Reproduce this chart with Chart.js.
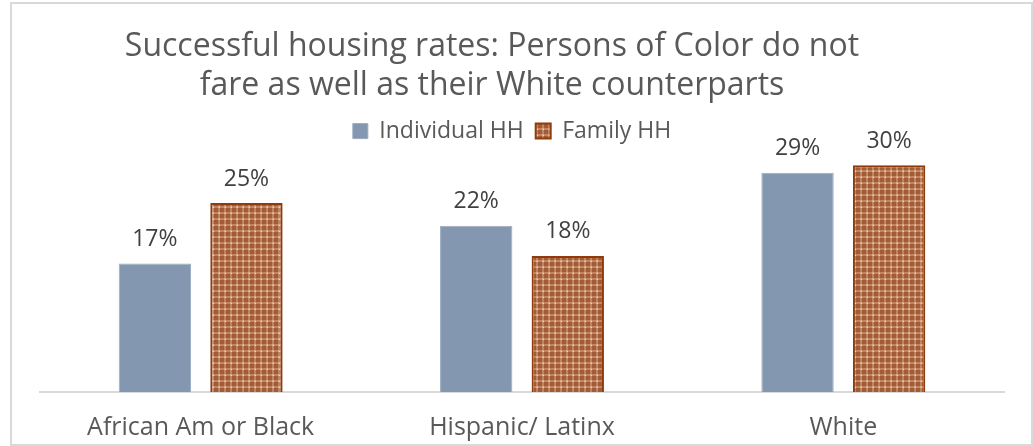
<!DOCTYPE html>
<html>
<head>
<meta charset="utf-8">
<script src="https://cdn.jsdelivr.net/npm/chart.js@4"></script>
<style>
  html, body { margin: 0; padding: 0; background: #ffffff; }
  #wrap { position: relative; width: 1033px; height: 446px; }
</style>
</head>
<body>
<div id="wrap"><canvas id="myChart"></canvas></div>
<script>
// data
const categories = ['African Am or Black', 'Hispanic/ Latinx', 'White'];
const seriesNames = ['Individual HH', 'Family HH'];
const individualValues = [17, 22, 29];
const familyValues = [25, 18, 30];
const titleLines = ['Successful housing rates: Persons of Color do not', 'fare as well as their White counterparts'];

Chart.defaults.font.family = "'Open Sans', 'Noto Sans', sans-serif";
Chart.defaults.color = '#595959';

// brown checked pattern for the family bars
function makePattern() {
    const c = document.createElement('canvas');
    c.width = 6;
    c.height = 6;
    const g = c.getContext('2d');
    g.fillStyle = '#a35b35';
    g.fillRect(0, 0, 6, 6);
    g.fillStyle = '#c08664';
    g.fillRect(0, 2, 6, 2);
    g.fillRect(2, 0, 2, 6);
    g.fillStyle = '#d6a88a';
    g.fillRect(2, 2, 2, 2);
    g.fillStyle = '#f0d8c0';
    g.fillRect(3, 3, 1, 1);
    return g.createPattern(c, 'repeat');
}
const brownPattern = makePattern();

// frame round the whole chart
const framePlugin = {
    id: 'frame',
    beforeDraw(chart) {
        const ctx = chart.ctx;
        ctx.save();
        ctx.strokeStyle = '#d9d9d9';
        ctx.lineWidth = 2;
        ctx.strokeRect(11, 3, 1021, 442);
        ctx.restore();
    }
};

// title sits a bit left of the plot centre
const shiftPlugin = {
    id: 'shift',
    afterLayout(chart) {
        chart.titleBlock.left -= 30;
        chart.titleBlock.right -= 30;
        chart.legend.left -= 10;
        chart.legend.right -= 10;
    }
};

// value labels above bars
const valueLabels = {
    id: 'valueLabels',
    afterDatasetsDraw(chart) {
        const ctx = chart.ctx;
        ctx.save();
        ctx.font = "23px 'Open Sans', 'Noto Sans', sans-serif";
        ctx.fillStyle = '#404040';
        ctx.textAlign = 'center';
        ctx.textBaseline = 'middle';
        chart.data.datasets.forEach((ds, i) => {
            chart.getDatasetMeta(i).data.forEach((bar, j) => {
                ctx.fillText(ds.data[j] + '%', bar.x, bar.y - 24);
            });
        });
        ctx.restore();
    }
};

const data = {
    labels: categories,
    datasets: [{
        label: seriesNames[0],
        data: individualValues,
        backgroundColor: '#8497b0',
        borderColor: '#9aabc0',
        borderWidth: 1,
        borderSkipped: 'bottom'
    }, {
        label: seriesNames[1],
        data: familyValues,
        backgroundColor: brownPattern,
        borderColor: '#8f3b0c',
        borderWidth: 2,
        borderSkipped: 'bottom'
    }]
};

const config = {
    type: 'bar',
    data: data,
    plugins: [framePlugin, shiftPlugin, valueLabels],
    options: {
        responsive: false,
        animation: false,
        categoryPercentage: 0.57,
        barPercentage: 0.79,
        layout: {
            padding: { left: 40, right: 29, top: 0, bottom: 0 }
        },
        plugins: {
            title: {
                display: true,
                text: titleLines,
                color: '#595959',
                font: { size: 32, weight: 'normal', lineHeight: 1.22 },
                padding: { top: 27, bottom: 2.5 }
            },
            legend: {
                display: true,
                labels: {
                    boxWidth: 15,
                    boxHeight: 15,
                    padding: 12,
                    color: '#595959',
                    font: { size: 23 }
                }
            },
            tooltip: { enabled: false }
        },
        scales: {
            x: {
                grid: { display: false },
                border: { display: true, color: '#d9d9d9', width: 2 },
                ticks: {
                    color: '#595959',
                    font: { size: 25 },
                    padding: 13
                },
                afterFit(scale) {
                    scale.height = 54;
                }
            },
            y: {
                display: false,
                min: 0,
                max: 31.67
            }
        }
    }
};

const canvas = document.getElementById('myChart');
canvas.width = 1033;
canvas.height = 446;
var myChart = new Chart(canvas.getContext('2d'), config);
</script>
</body>
</html>
